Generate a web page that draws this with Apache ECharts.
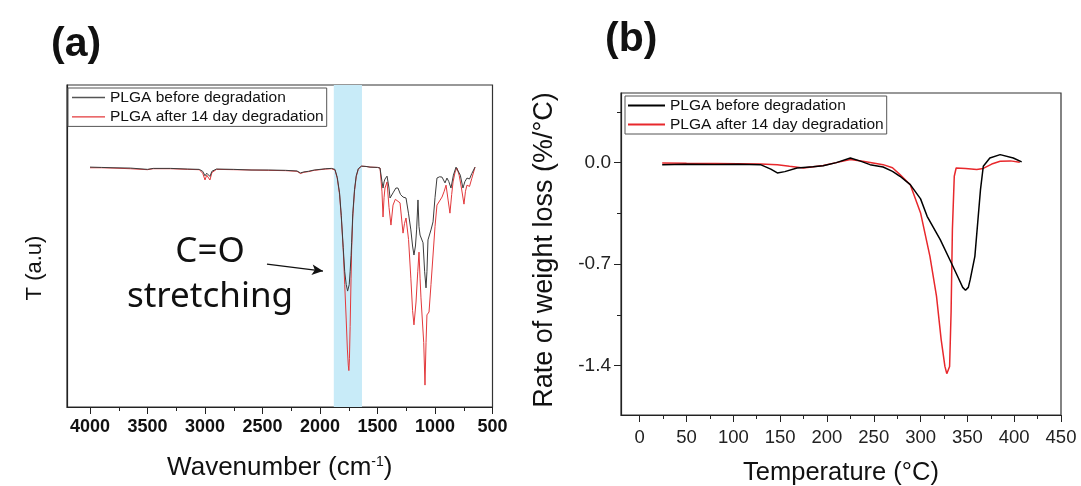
<!DOCTYPE html>
<html><head><meta charset="utf-8">
<script src="https://cdn.jsdelivr.net/npm/echarts@6/dist/echarts.min.js"></script>
<style>html,body{margin:0;padding:0;background:#fff}#c{width:1081px;height:486px}</style>
</head><body><div id="c"></div>
<script>
const seriesNames = ['PLGA before degradation', 'PLGA after 14 day degradation'];

// (a) FTIR: [wavenumber cm-1, transmittance a.u.]
const ftirBefore = [[4000,74.5],[3900,74.4],[3800,74.3],[3650,74.2],[3500,73.8],[3450,74.1],[3300,74.1],[3150,73.9],[3050,73.8],[3020,73.2],[3000,71.8],[2985,72.6],[2975,72.3],[2957,71.6],[2940,73.2],[2900,73.9],[2750,73.8],[2600,73.6],[2450,73.6],[2300,73.5],[2200,73.3],[2170,72.7],[2140,73.0],[2100,73.2],[2050,73.6],[2000,73.8],[1950,74.0],[1900,74.1],[1870,73.8],[1850,71.3],[1830,66.5],[1815,59.5],[1798,49.5],[1785,42],[1772,38],[1760,36],[1752,35.5],[1746,38],[1738,42],[1730,47],[1725,51],[1715,60],[1700,67.5],[1685,71.8],[1667,74],[1640,74.8],[1600,74.7],[1565,74.5],[1500,74.4],[1478,74.2],[1461,70],[1452,68.0],[1443,69.9],[1435,70.8],[1417,71.7],[1400,68],[1391,64.9],[1380,65.5],[1365,66.5],[1340,68],[1322,68.0],[1300,66],[1278,65.2],[1252,64.9],[1230,60],[1210,55],[1195,50],[1183,47.2],[1170,50],[1160,55],[1148,64.3],[1139,56],[1130,53.4],[1118,53.4],[1104,51],[1090,42],[1078,37.0],[1070,42],[1061,51.9],[1050,52.5],[1035,55],[1017,57.5],[1000,65],[983,71.1],[960,71.5],[939,71.4],[913,69.6],[896,71.1],[880,70],[861,68.0],[840,72],[817,74.5],[800,74.2],[780,72],[757,68.0],[740,70],[722,71.1],[700,70.8],[680,72.5],[652,74.5]];
const ftirAfter = [[4000,74.3],[3900,74.3],[3800,74.2],[3650,74.0],[3500,73.7],[3450,74.0],[3300,74.0],[3150,73.8],[3050,73.7],[3020,72.6],[3000,70.5],[2985,72.0],[2975,71.6],[2957,70.5],[2940,72.8],[2900,73.8],[2750,73.7],[2600,73.6],[2450,73.5],[2300,73.4],[2200,73.2],[2170,72.5],[2140,72.9],[2100,73.1],[2050,73.5],[2000,73.7],[1950,73.9],[1900,74.0],[1870,73.6],[1850,71],[1830,66],[1815,59],[1798,48.8],[1785,38],[1772,27],[1762,18],[1754,13],[1749,11.3],[1744,15],[1738,25],[1730,40],[1725,48.8],[1715,59],[1700,67],[1685,71.5],[1667,73.8],[1640,74.8],[1600,74.7],[1565,74.5],[1500,74.4],[1478,74.2],[1461,66.8],[1452,59.0],[1443,65],[1435,68.0],[1417,69.9],[1400,62],[1383,56.5],[1365,62.7],[1345,64.5],[1330,64.9],[1304,63.4],[1278,54.0],[1265,57],[1252,58.7],[1230,52],[1210,40],[1195,30],[1183,25.5],[1165,32.6],[1150,42],[1139,48.1],[1130,40],[1122,33.9],[1110,33.9],[1098,20],[1087,6.8],[1078,20],[1070,28.6],[1052,29.5],[1035,38],[1017,47.2],[1000,56],[983,62.7],[960,64],[939,65.2],[920,67],[904,68.9],[885,64],[870,60.2],[855,66],[843,69.9],[825,73],[809,74.2],[790,72],[770,68],[748,63.0],[735,67],[722,68.9],[700,68.5],[680,71],[652,74.5]];

// (b) DTG: [temperature °C, rate of weight loss %/°C]
const tgaBefore = [[24,-0.014],[50,-0.012],[80,-0.013],[105,-0.012],[129,-0.014],[140,-0.045],[147,-0.071],[155,-0.062],[168,-0.037],[185,-0.028],[196,-0.021],[210,0.0],[225,0.032],[235,0.012],[246,-0.014],[260,-0.03],[270,-0.06],[278,-0.094],[289,-0.152],[300,-0.25],[307,-0.37],[321,-0.531],[332,-0.68],[340,-0.79],[345,-0.86],[348,-0.88],[351,-0.86],[353,-0.807],[358,-0.646],[361,-0.416],[364,-0.186],[367,-0.025],[374,0.032],[385,0.055],[399,0.032],[408,0.005]];
const tgaAfter = [[24,-0.002],[50,-0.005],[80,-0.006],[105,-0.008],[129,-0.01],[147,-0.014],[160,-0.025],[175,-0.037],[196,-0.02],[210,0.0],[225,0.022],[240,0.008],[260,-0.014],[270,-0.035],[278,-0.083],[289,-0.152],[300,-0.347],[310,-0.646],[317,-0.92],[322,-1.22],[326,-1.405],[328,-1.455],[331,-1.405],[332.6,-1.03],[334,-0.46],[336,-0.094],[338,-0.037],[348,-0.04],[360,-0.048],[367,-0.04],[376,-0.01],[385,0.009],[396,0.012],[406,0.002]];

// ticks
const ftirMajor = [4000,3500,3000,2500,2000,1500,1000,500];
const ftirMinor = [3750,3250,2750,2250,1750,1250,750];
const tgaMajorX = [0,50,100,150,200,250,300,350,400,450];
const tgaMinorX = [25,75,125,175,225,275,325,375,425];
const tgaMajorY = [-1.4,-0.7,0];
const tgaMinorY = [-1.05,-0.35,0.35];

// highlighted C=O band and annotation
const carbonylBand = [1880, 1635];
const arrowFrom = [2461, 44.4];
const arrowTo = [1974, 42.2];

const AX = '#222';
const chart = echarts.init(document.getElementById('c'));
const majorTick = (grid, pos, vals) => ({
  gridIndex: grid, type: 'value', position: pos,
  axisLine: {show: false, onZero: false}, axisLabel: {show: false}, splitLine: {show: false},
  axisTick: {show: true, length: 7, customValues: vals, lineStyle: {color: AX, width: 1}}
});
chart.setOption({
  animation: false,
  backgroundColor: '#fff',
  grid: [
    {left: 67, top: 85, width: 425.5, height: 322, show: true, borderColor: '#333', borderWidth: 1.2, outerBoundsMode: 'none', containLabel: false},
    {left: 621, top: 93, width: 440, height: 322, show: true, borderColor: '#333', borderWidth: 1.2, outerBoundsMode: 'none', containLabel: false}
  ],
  xAxis: [
    {gridIndex: 0, type: 'value', min: 500, max: 4200, inverse: true, position: 'bottom',
     axisLine: {show: true, onZero: false, lineStyle: {color: AX, width: 1.2}},
     axisTick: {show: true, length: 4, customValues: ftirMajor.concat(ftirMinor), lineStyle: {color: AX}},
     axisLabel: {customValues: ftirMajor, fontSize: 18, fontWeight: 'bold', color: '#111', margin: 11, fontFamily: 'Liberation Sans',
       formatter: v => String(v)},
     splitLine: {show: false},
     name: 'Wavenumber (cm{sup|-1})', nameLocation: 'middle', nameGap: 48,
     nameTextStyle: {fontSize: 26, color: '#111', fontFamily: 'Liberation Sans',
       rich: {sup: {fontSize: 14, verticalAlign: 'top', color: '#111', fontFamily: 'Liberation Sans'}}}},
    Object.assign(majorTick(0, 'bottom', ftirMajor), {min: 500, max: 4200, inverse: true}),
    {gridIndex: 1, type: 'value', min: -20, max: 450, position: 'bottom',
     axisLine: {show: true, onZero: false, lineStyle: {color: AX, width: 1.2}},
     axisTick: {show: true, length: 4, customValues: tgaMajorX.concat(tgaMinorX), lineStyle: {color: AX}},
     axisLabel: {customValues: tgaMajorX, fontSize: 18.5, color: '#222', margin: 13, fontFamily: 'Liberation Sans'},
     splitLine: {show: false},
     name: 'Temperature (°C)', nameLocation: 'middle', nameGap: 45,
     nameTextStyle: {fontSize: 25.5, color: '#111', fontFamily: 'Liberation Sans'}},
    Object.assign(majorTick(1, 'bottom', tgaMajorX), {min: -20, max: 450})
  ],
  yAxis: [
    {gridIndex: 0, type: 'value', min: 0, max: 100,
     axisLine: {show: true, onZero: false, lineStyle: {color: AX, width: 1.2}},
     axisTick: {show: false}, axisLabel: {show: false}, splitLine: {show: false}},
    {gridIndex: 1, type: 'value', min: -1.74, max: 0.48, position: 'left',
     axisLine: {show: true, onZero: false, lineStyle: {color: AX, width: 1.2}},
     axisTick: {show: true, length: 4, customValues: tgaMajorY.concat(tgaMinorY), lineStyle: {color: AX}},
     axisLabel: {customValues: tgaMajorY, fontSize: 19, color: '#222', margin: 10, fontFamily: 'Liberation Sans',
       formatter: v => (Math.abs(v) < 1e-9 ? 0 : v).toFixed(1)},
     splitLine: {show: false},
     name: 'Rate of weight loss (%/°C)', nameLocation: 'middle', nameGap: 63,
     nameTextStyle: {fontSize: 27, color: '#111', fontFamily: 'Liberation Sans', padding: [0, 0, 0, 8]}},
    Object.assign(majorTick(1, 'left', tgaMajorY), {min: -1.74, max: 0.48})
  ],
  legend: [
    {left: 68, top: 88, orient: 'vertical', itemGap: 3.4, itemWidth: 33, itemHeight: 1.3, icon: 'rect',
     padding: [1.5, 3, 1.5, 4], borderColor: '#555', borderWidth: 1, backgroundColor: '#fff',
     textStyle: {fontSize: 15.5, lineHeight: 16, color: '#111', fontFamily: 'Liberation Sans'},
     data: [{name: seriesNames[0], itemStyle: {color: '#555'}}, {name: seriesNames[1], itemStyle: {color: '#e3383b'}}]},
    {left: 625, top: 96, orient: 'vertical', itemGap: 3, itemWidth: 37, itemHeight: 2, icon: 'rect',
     padding: [1.5, 3, 1.5, 3], borderColor: '#555', borderWidth: 1, backgroundColor: '#fff',
     textStyle: {fontSize: 15.5, lineHeight: 16, color: '#111', fontFamily: 'Liberation Sans'},
     data: [{name: seriesNames[0], itemStyle: {color: '#000'}}, {name: seriesNames[1], itemStyle: {color: '#e8282c'}}]}
  ],
  series: [
    {name: seriesNames[1], type: 'line', xAxisIndex: 0, yAxisIndex: 0, data: ftirAfter, symbol: 'none',
     color: '#e3383b', lineStyle: {color: '#e3383b', width: 1}, z: 3,
     markArea: {silent: true, itemStyle: {color: '#c8ebf8'}, data: [[{xAxis: carbonylBand[0]}, {xAxis: carbonylBand[1]}]]}},
    {name: seriesNames[0], type: 'line', xAxisIndex: 0, yAxisIndex: 0, data: ftirBefore, symbol: 'none',
     color: '#3c3c3c', lineStyle: {color: '#3c3c3c', width: 1}, z: 4,
     markLine: {silent: true, symbol: ['none', 'arrow'], symbolSize: [8, 11], label: {show: false},
       lineStyle: {color: '#111', width: 1.3, type: 'solid'},
       data: [[{coord: arrowFrom}, {coord: arrowTo}]]}},
    {name: seriesNames[1], type: 'line', xAxisIndex: 2, yAxisIndex: 1, data: tgaAfter, symbol: 'none',
     color: '#e8282c', lineStyle: {color: '#e8282c', width: 1.5}, z: 3},
    {name: seriesNames[0], type: 'line', xAxisIndex: 2, yAxisIndex: 1, data: tgaBefore, symbol: 'none',
     color: '#000', lineStyle: {color: '#000', width: 1.5}, z: 4}
  ],
  graphic: [
    {type: 'text', left: 51, top: 24, style: {text: '(a)', fontSize: 41, fontWeight: 'bold', fill: '#111', fontFamily: 'Liberation Sans'}},
    {type: 'text', left: 605, top: 19, style: {text: '(b)', fontSize: 41, fontWeight: 'bold', fill: '#111', fontFamily: 'Liberation Sans'}},
    {type: 'text', x: 35, y: 268, rotation: Math.PI / 2, style: {text: 'T (a.u)', fontSize: 22, fill: '#111', fontFamily: 'Liberation Sans', align: 'center', verticalAlign: 'middle'}},
    {type: 'text', x: 210, y: 252, style: {text: 'C=O', fontSize: 35, fill: '#111', fontFamily: 'Noto Sans', align: 'center', verticalAlign: 'middle'}, z: 10},
    {type: 'text', x: 210, y: 297, style: {text: 'stretching', fontSize: 35, fill: '#111', fontFamily: 'Noto Sans', align: 'center', verticalAlign: 'middle'}, z: 10}
  ]
});
</script></body></html>
